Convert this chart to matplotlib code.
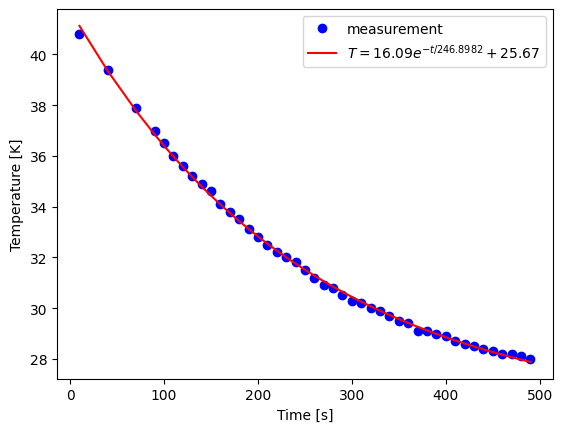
import numpy as np
import matplotlib
matplotlib.use('Agg')
import matplotlib.pyplot as plt

# measured cooling curve
time_s = [10, 40, 70, 90, 100, 110, 120, 130, 140, 150, 160, 170, 180, 190,
          200, 210, 220, 230, 240, 250, 260, 270, 280, 290, 300, 310, 320,
          330, 340, 350, 360, 370, 380, 390, 400, 410, 420, 430, 440, 450,
          460, 470, 480, 490]
temp_k = [40.8, 39.4, 37.9, 37.0, 36.5, 36.0, 35.6, 35.2, 34.9, 34.6, 34.1,
          33.8, 33.5, 33.1, 32.8, 32.5, 32.2, 32.0, 31.8, 31.5, 31.2, 30.9,
          30.8, 30.5, 30.3, 30.2, 30.0, 29.9, 29.7, 29.5, 29.4, 29.1, 29.1,
          29.0, 28.9, 28.7, 28.6, 28.5, 28.4, 28.3, 28.2, 28.2, 28.1, 28.0]

# fit parameters shown in the legend
fit_a = 16.09
fit_tau = 246.8982
fit_c = 25.67

t = np.array(time_s)
fit = fit_a * np.exp(-t / fit_tau) + fit_c

fig, ax = plt.subplots(figsize=(6.4, 4.8), dpi=100)
ax.plot(t, temp_k, 'bo', label='measurement')
ax.plot(t, fit, 'r-',
        label=r'$T = %.2f e^{-t/%.4f} + %.2f$' % (fit_a, fit_tau, fit_c))
ax.set_xlabel('Time [s]')
ax.set_ylabel('Temperature [K]')
ax.legend(loc='upper right')
fig.savefig('out.png', dpi=100, bbox_inches='tight')
